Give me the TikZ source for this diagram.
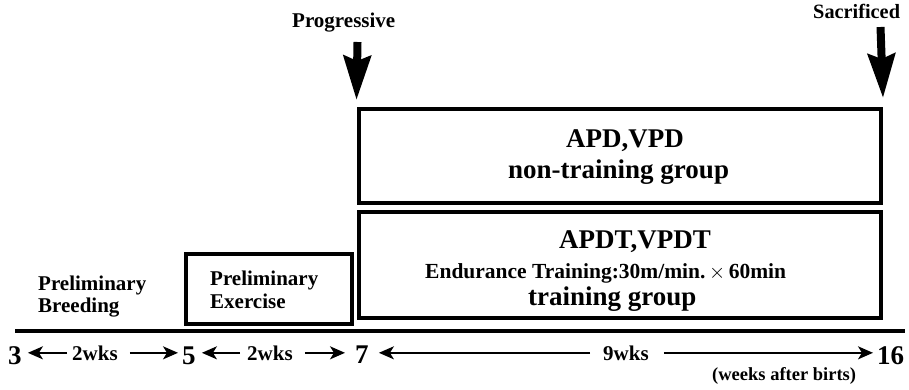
\documentclass[tikz,border=0pt]{standalone}
\usepackage{fontspec}
\setmainfont{Liberation Serif}
\usetikzlibrary{arrows.meta}
\begin{document}
\begin{tikzpicture}[x=1pt,y=-1pt,
  box/.style={draw,line width=4pt,inner sep=0pt},
  lbl/.style={font=\bfseries\fontsize{#1}{#1}\selectfont,inner sep=0pt,anchor=base west},
  lbl/.default=20,
  bigarrow/.style={line width=8pt,-{Stealth[width=27pt,length=44pt,inset=5pt]}},
  timearrow/.style={line width=1.6pt,-{Stealth[width=13pt,length=15pt,inset=4pt]}}]
\useasboundingbox (0,0) rectangle (909,389);
% boxes
\node[box,minimum width=522.5pt,minimum height=94pt] (grpA) at (619.75,156) {};
\node[box,minimum width=522.5pt,minimum height=106pt] (grpB) at (619.75,265) {};
\node[box,minimum width=166pt,minimum height=70pt] (exbox) at (269,289) {};
% box texts
\node[lbl=27] (apd) at (566,147) {APD,VPD};
\node[lbl=27] (nontr) at (508,178) {non-training group};
\node[lbl=27] (apdt) at (559,248) {APDT,VPDT};
\node[lbl=21.5] (endur) at (425,278) {Endurance Training:30m/min.\,$\times$\,60min};
\node[lbl=27] (train) at (528,305) {training group};
\node[lbl=21] (prex1) at (210,285) {Preliminary};
\node[lbl=21] (prex2) at (210,308) {Exercise};
\node[lbl=21] (prbr1) at (38,290) {Preliminary};
\node[lbl=21] (prbr2) at (38,312) {Breeding};
% top labels and arrows
\node[lbl=21] (prog) at (292,27) {Progressive};
\node[lbl=20.3] (sacr) at (813,18) {Sacrificed};
\coordinate (progtop) at (357.5,42);
\coordinate (sacrtop) at (880.5,27);
\draw[bigarrow] (progtop) -- ([yshift=7pt]grpA.north west);
\draw[bigarrow] (sacrtop) -- ([yshift=9pt]grpA.north east);
% time axis
\coordinate (axL) at (15,331);
\coordinate (axR) at (905,331);
\draw[line width=4pt] (axL) -- (axR);
\node[lbl=27] (n3) at (8,364) {3};
\node[lbl=21] (w1) at (72,360) {2wks};
\node[lbl=27] (n5) at (182,364) {5};
\node[lbl=21] (w2) at (247,360) {2wks};
\node[lbl=27] (n7) at (355,363) {7};
\node[lbl=21] (w3) at (603,360) {9wks};
\node[lbl=27] (n16) at (877,364) {16};
\node[lbl=18.5] (unit) at (712,380) {(weeks after birts)};
\draw[timearrow] ([xshift=-5pt]w1.west) -- ([xshift=6pt]w1.west -| n3.east);
\draw[timearrow] ([xshift=12pt]w1.east) -- ([xshift=-4pt]w1.east -| n5.west);
\draw[timearrow] ([xshift=-7pt]w2.west) -- ([xshift=6pt]w2.west -| n5.east);
\draw[timearrow] ([xshift=12pt]w2.east) -- ([xshift=-10pt]w2.east -| n7.west);
\draw[timearrow] ([xshift=-13pt]w3.west) -- ([xshift=10pt]w3.west -| n7.east);
\draw[timearrow] ([xshift=15pt]w3.east) -- ([xshift=-4pt]w3.east -| n16.west);
\end{tikzpicture}
\end{document}
